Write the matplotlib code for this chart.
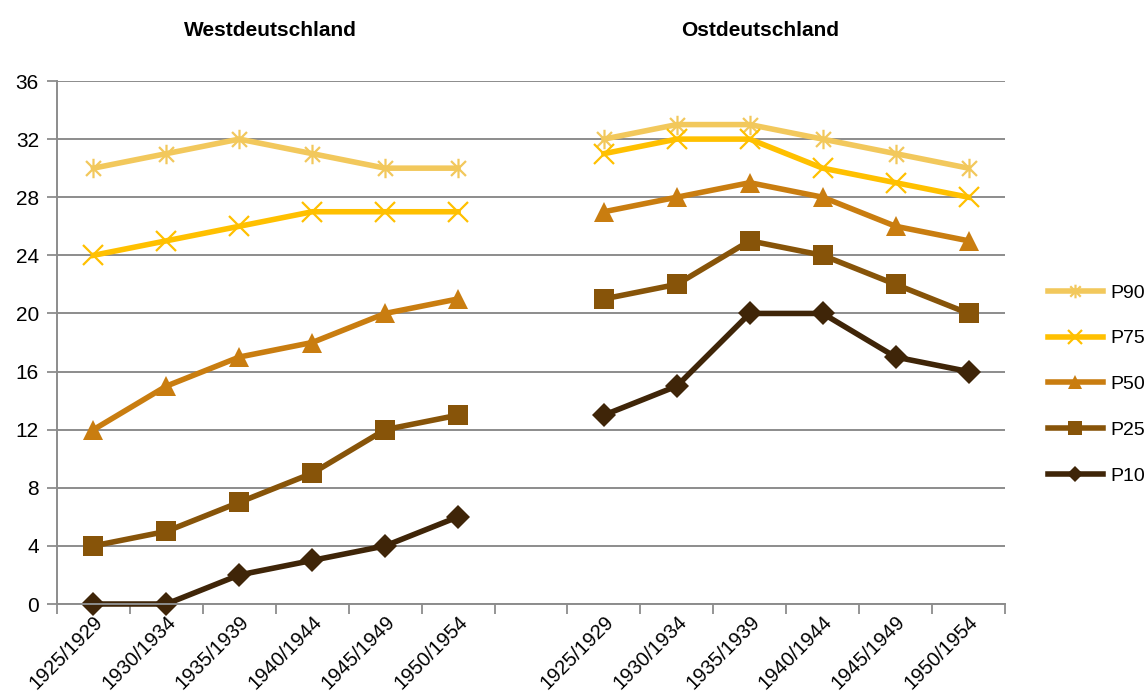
import numpy as np
import matplotlib.pyplot as plt
from matplotlib.path import Path

plt.rcParams['font.family'] = ['Liberation Sans', 'DejaVu Sans']

categories = ['1925/1929', '1930/1934', '1935/1939', '1940/1944', '1945/1949', '1950/1954']
series_names = ['P90', 'P75', 'P50', 'P25', 'P10']

west = {
    'P90': [30, 31, 32, 31, 30, 30],
    'P75': [24, 25, 26, 27, 27, 27],
    'P50': [12, 15, 17, 18, 20, 21],
    'P25': [4, 5, 7, 9, 12, 13],
    'P10': [0, 0, 2, 3, 4, 6],
}
east = {
    'P90': [32, 33, 33, 32, 31, 30],
    'P75': [31, 32, 32, 30, 29, 28],
    'P50': [27, 28, 29, 28, 26, 25],
    'P25': [21, 22, 25, 24, 22, 20],
    'P10': [13, 15, 20, 20, 17, 16],
}
titles = ['Westdeutschland', 'Ostdeutschland']

# asterisk marker: X plus vertical stroke
star = Path([(-1, -1), (1, 1), (-1, 1), (1, -1), (0, -1.3), (0, 1.3)],
            [Path.MOVETO, Path.LINETO, Path.MOVETO, Path.LINETO, Path.MOVETO, Path.LINETO])

styles = {
    'P90': dict(color='#F2C85C', marker=star, ms=14, mew=1.6),
    'P75': dict(color='#FFC000', marker='x', ms=14, mew=1.6),
    'P50': dict(color='#C97D10', marker='^', ms=15, mew=0),
    'P25': dict(color='#875409', marker='s', ms=15, mew=0),
    'P10': dict(color='#3F2508', marker='D', ms=12, mew=0),
}

fig = plt.figure(figsize=(11.47, 6.98), dpi=100)
ax = fig.add_axes([57 / 1147, 1 - 604 / 698, (1005 - 57) / 1147, (604 - 81) / 698])

n = len(categories)
x_west = np.arange(n)
x_east = np.arange(n) + n + 1

for name in series_names:
    st = styles[name]
    ax.plot(x_west, west[name], lw=4, label=name, clip_on=False, **st)
    ax.plot(x_east, east[name], lw=4, clip_on=False, **st)

ax.set_ylim(0, 36)
ax.set_yticks(range(0, 37, 4))
ax.set_xlim(-0.5, 2 * n + 0.5)
ax.set_xticks(list(x_west) + list(x_east))
ax.set_xticklabels(categories + categories, rotation=45, ha='right', rotation_mode='anchor')
ax.set_xticks(np.arange(-0.5, 2 * n + 1, 1), minor=True)
ax.tick_params(axis='x', which='major', length=0, pad=6, labelsize=14.5)
ax.tick_params(axis='x', which='minor', length=7, width=1.3, color='#8C8C8C')
ax.tick_params(axis='y', length=7, width=1.3, color='#8C8C8C', labelsize=15, pad=6)

ax.grid(axis='y', color='#8C8C8C', lw=1.4)
ax.set_axisbelow(True)
for s in ['top', 'right']:
    ax.spines[s].set_visible(False)
for s in ['left', 'bottom']:
    ax.spines[s].set_color('#8C8C8C')
    ax.spines[s].set_linewidth(1.4)

leg = ax.legend(loc='center left', bbox_to_anchor=(1.027, 0.42), frameon=False,
                fontsize=14, handlelength=2.8, handletextpad=0.4, labelspacing=1.45,
                markerscale=0.7)

fig.text(270 / 1147, 1 - 30 / 698, titles[0], ha='center', va='center', fontsize=15, fontweight='bold')
fig.text(760 / 1147, 1 - 30 / 698, titles[1], ha='center', va='center', fontsize=15, fontweight='bold')

fig.savefig('out.png', dpi=100)
